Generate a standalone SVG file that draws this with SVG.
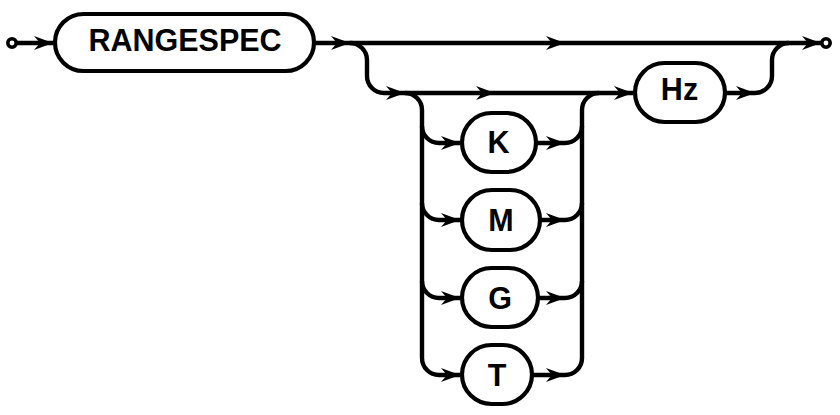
<svg xmlns="http://www.w3.org/2000/svg" xmlns:xlink="http://www.w3.org/1999/xlink" width="840" height="415" viewBox="0 0 840 415">
<style>
.ln{fill:none;stroke:#000;stroke-width:4.4;stroke-linejoin:round}
.bx{fill:#fff;stroke:#000;stroke-width:4.2}
.tx{font-family:"Liberation Sans",Arial,sans-serif;font-weight:bold;font-size:30.5px;text-anchor:middle;fill:#000}
.ep{fill:#fff;stroke:#000;stroke-width:3.6}
</style>
<defs>
<path id="ah" d="M0,0 L-19,-7 L-13,0 L-19,7 Z" fill="#000"/>
</defs>
<g id="connectors">
<path class="ln" d="M17,43 H53"/>
<path class="ln" d="M315,43 H821"/>
<path class="ln" d="M350,43 A17,17 0 0 1 367,60 V76 A17,17 0 0 0 384,93 H633"/>
<path class="ln" d="M405,93 A17,17 0 0 1 422,110 V358 A17,17 0 0 0 439,375 H460"/>
<path class="ln" d="M422,126 A17,17 0 0 0 439,143 H460"/>
<path class="ln" d="M422,203 A17,17 0 0 0 439,220 H460"/>
<path class="ln" d="M422,281 A17,17 0 0 0 439,298 H460"/>
<path class="ln" d="M537,143 H565 A17,17 0 0 0 582,126"/>
<path class="ln" d="M541,220 H565 A17,17 0 0 0 582,203"/>
<path class="ln" d="M539,298 H565 A17,17 0 0 0 582,281"/>
<path class="ln" d="M533,375 H565 A17,17 0 0 0 582,358 V110 A17,17 0 0 1 599,93"/>
<path class="ln" d="M726,93 H755 A17,17 0 0 0 772,76 V60 A17,17 0 0 1 789,43"/>
<use xlink:href="#ah" x="53" y="43"/>
<use xlink:href="#ah" x="350" y="43"/>
<use xlink:href="#ah" x="565" y="43"/>
<use xlink:href="#ah" x="821" y="43"/>
<use xlink:href="#ah" x="405" y="93"/>
<use xlink:href="#ah" x="495" y="93"/>
<use xlink:href="#ah" x="633" y="93"/>
<use xlink:href="#ah" x="755" y="93"/>
<use xlink:href="#ah" x="460" y="143"/>
<use xlink:href="#ah" x="460" y="220"/>
<use xlink:href="#ah" x="460" y="298"/>
<use xlink:href="#ah" x="460" y="375"/>
<use xlink:href="#ah" x="565" y="143"/>
<use xlink:href="#ah" x="565" y="220"/>
<use xlink:href="#ah" x="565" y="298"/>
<use xlink:href="#ah" x="565" y="375"/>
</g>
<g id="start"><circle class="ep" cx="12" cy="43" r="4.2"/></g>
<g id="end"><circle class="ep" cx="826" cy="43" r="4.2"/></g>
<g id="rangespec"><rect class="bx" x="55" y="14" width="259" height="57" rx="28.5"/><text class="tx" x="185" y="51">RANGESPEC</text></g>
<g id="hz"><rect class="bx" x="635" y="63" width="90" height="59" rx="29.5"/><text class="tx" x="679.5" y="100">Hz</text></g>
<g id="k"><rect class="bx" x="462" y="113" width="74" height="59" rx="29.5"/><text class="tx" x="498.5" y="152.5">K</text></g>
<g id="m"><rect class="bx" x="462" y="190" width="78" height="60" rx="30"/><text class="tx" x="501" y="230.5">M</text></g>
<g id="g"><rect class="bx" x="462" y="268" width="76" height="59" rx="29.5"/><text class="tx" x="500" y="308.5">G</text></g>
<g id="t"><rect class="bx" x="462" y="345" width="70" height="59" rx="29.5"/><text class="tx" x="497" y="385.5">T</text></g>
</svg>
